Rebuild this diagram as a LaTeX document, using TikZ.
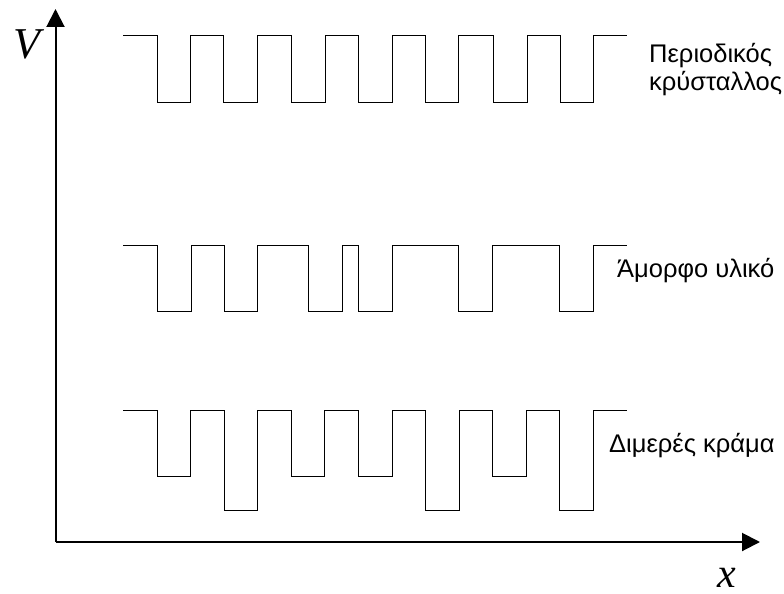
\documentclass[tikz,border=0pt]{standalone}
\usepackage{fontspec}
\setmainfont{Liberation Serif}
\newfontfamily\labelfont{Liberation Sans}
\usetikzlibrary{arrows.meta}
\begin{document}
\begin{tikzpicture}[x=1pt,y=-1pt,
  wave/.style={line width=0.9pt,black},
  axis/.style={line width=2pt,-{Triangle[length=18pt,width=18pt]}},
  curvelabel/.style={font=\labelfont\fontsize{25.5}{30}\selectfont,inner sep=0pt,anchor=base west},
  axlabel/.style={font=\fontsize{44}{48}\selectfont\itshape,inner sep=0pt}]
\useasboundingbox (0,0) rectangle (784,594);

% axes
\coordinate (O) at (55.5,542);
\coordinate (ytip) at (55.5,9);
\coordinate (xtip) at (760,542);
\draw[axis] (O) -- (ytip);
\draw[axis] (O) -- (xtip);
\node[axlabel] (V) at (27,44) {V};
\node[axlabel,font=\fontsize{42}{46}\selectfont\itshape] (X) at (727,578) {x};

% periodic crystal: equal wells
\def\hi{35}\def\lo{102.5}
\draw[wave] (123,\hi)
  \foreach \a/\b in {157/190,223/257,291/325,358/392,425/458,493/527,560/593}
    { -| (\a,\lo) -| (\b,\hi) } -- (627,\hi);
\node[curvelabel] (crys1) at (649,63) {Περιοδικός};
\node[curvelabel] (crys2) at (649,90) {κρύσταλλος};

% amorphous material: irregular well widths and spacing
\def\hi{245}\def\lo{311.5}
\draw[wave] (123,\hi)
  \foreach \a/\b in {157/191,224/257,308/342,358/392,458/492,559/593}
    { -| (\a,\lo) -| (\b,\hi) } -- (627,\hi);
\node[curvelabel] (amor) at (617,277) {Άμορφο υλικό};

% binary alloy: two well depths
\def\hi{410}
\draw[wave] (123,\hi)
  \foreach \a/\b/\l in {157/190/476.5,224/257/510,291/324/476.5,358/392/476.5,425/459/510,492/526/476.5,559/593/510}
    { -| (\a,\l) -| (\b,\hi) } -- (627,\hi);
\node[curvelabel] (alloy) at (609,452) {Διμερές κράμα};
\end{tikzpicture}
\end{document}
